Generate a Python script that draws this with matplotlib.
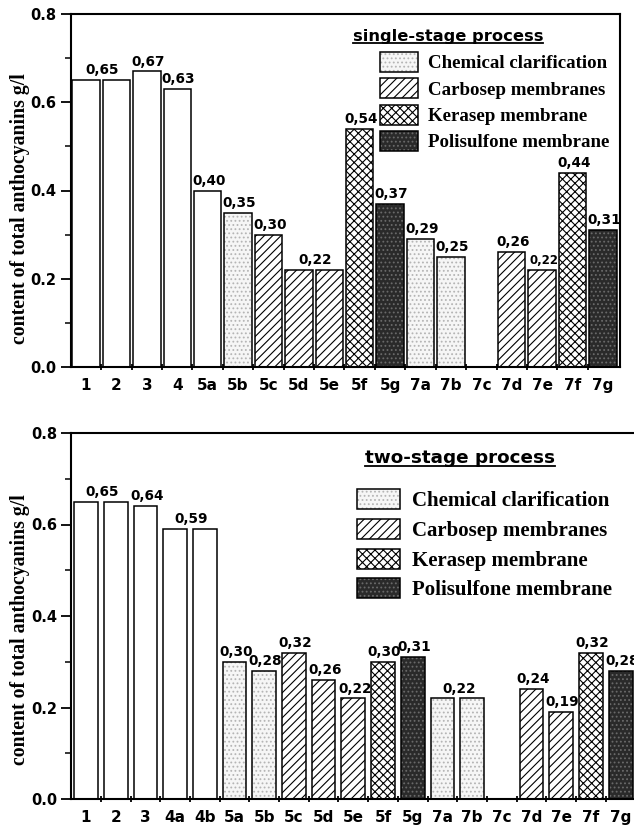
import matplotlib
matplotlib.use("Agg")
import matplotlib.pyplot as plt
from matplotlib.patches import Patch
from matplotlib.lines import Line2D
from matplotlib.ticker import MultipleLocator, FixedLocator
from matplotlib.legend_handler import HandlerTuple
import numpy as np

# ---------------- data ----------------
cats_top = ['1', '2', '3', '4', '5a', '5b', '5c', '5d', '5e', '5f', '5g',
            '7a', '7b', '7c', '7d', '7e', '7f', '7g']
vals_top = [0.65, 0.65, 0.67, 0.63, 0.40, 0.35, 0.30, 0.22, 0.22, 0.54, 0.37,
            0.29, 0.25, 0.0, 0.26, 0.22, 0.44, 0.31]
kind_top = ['none', 'none', 'none', 'none', 'none', 'chem', 'carb', 'carb', 'carb',
            'kera', 'poli', 'chem', 'chem', 'none', 'carb', 'carb', 'kera', 'poli']
labels_top = ['0,65', '', '0,67', '0,63', '0,40', '0,35', '0,30', '0,22', '',
              '0,54', '0,37', '0,29', '0,25', '', '0,26', '0,22', '0,44', '0,31']
shared_top = [0, 7]          # label spans bar i and i+1
small_top = [15]             # smaller label

cats_bot = ['1', '2', '3', '4a', '4b', '5a', '5b', '5c', '5d', '5e', '5f', '5g',
            '7a', '7b', '7c', '7d', '7e', '7f', '7g']
vals_bot = [0.65, 0.65, 0.64, 0.59, 0.59, 0.30, 0.28, 0.32, 0.26, 0.22, 0.30, 0.31,
            0.22, 0.22, 0.0, 0.24, 0.19, 0.32, 0.28]
kind_bot = ['none', 'none', 'none', 'none', 'none', 'chem', 'chem', 'carb', 'carb',
            'carb', 'kera', 'poli', 'chem', 'chem', 'none', 'carb', 'carb', 'kera', 'poli']
labels_bot = ['0,65', '', '0,64', '0,59', '', '0,30', '0,28', '0,32', '0,26', '0,22',
              '0,30', '0,31', '0,22', '', '', '0,24', '0,19', '0,32', '0,28']
shared_bot = [0, 3, 12]
small_bot = []

legend_labels = ['Chemical clarification', 'Carbosep membranes',
                 'Kerasep membrane', 'Polisulfone membrane']
legend_kinds = ['chem', 'carb', 'kera', 'poli']
ylabel = 'content of total anthocyanins g/l'

# ---------------- styles ----------------
styles = {
    'none': dict(face='white', hatch=None, hcol='white'),
    'chem': dict(face='#f6f6f6', hatch='....', hcol='#b5b5b5'),
    'carb': dict(face='white', hatch='////', hcol='black'),
    'kera': dict(face='white', hatch='xxxx', hcol='black'),
    'poli': dict(face='#2a2a2a', hatch='....', hcol='#6a6a6a'),
}
plt.rcParams['hatch.linewidth'] = 0.8
SANS = 'DejaVu Sans'
SERIF = 'Liberation Serif'

fig = plt.figure(figsize=(6.34, 8.31), dpi=100)
W, H = 634.0, 831.0


def px_box(l, t, r, b):
    return [l / W, 1 - b / H, (r - l) / W, (b - t) / H]


def draw_panel(ax, cats, vals, kinds, labels, shared, small, width, xlim,
               right_spine=True):
    x = np.arange(len(cats))
    vals = np.asarray(vals)
    kinds = np.asarray(kinds)
    for k, st in styles.items():
        m = kinds == k
        if not m.any():
            continue
        ax.bar(x[m], vals[m], width, color=st['face'], edgecolor=st['hcol'],
               hatch=st['hatch'], linewidth=0, zorder=2)
    ax.bar(x, vals, width, fill=False, edgecolor='black', linewidth=1.1, zorder=3)
    for i, lab in enumerate(labels):
        if not lab:
            continue
        if i in shared:
            xi = (x[i] + x[i + 1]) / 2
            yi = max(vals[i], vals[i + 1])
        else:
            xi = x[i]
            yi = vals[i]
        ax.annotate(lab, (xi, yi), xytext=(1, 2), textcoords='offset points',
                    ha='center', va='bottom', fontfamily=SANS, fontweight='bold',
                    fontsize=8.5 if i in small else 9.8, annotation_clip=False,
                    clip_on=False)
    ax.set_xlim(*xlim)
    ax.set_ylim(0, 0.8)
    ax.xaxis.set_major_locator(FixedLocator(x))
    ax.set_xticklabels(cats, fontfamily=SANS, fontweight='bold', fontsize=11)
    ax.xaxis.set_minor_locator(FixedLocator(x[:-1] + 0.5))
    ax.tick_params(axis='x', which='major', length=0, pad=8)
    ax.tick_params(axis='x', which='minor', length=5, width=1.3, direction='inout')
    ax.yaxis.set_major_locator(MultipleLocator(0.2))
    ax.yaxis.set_minor_locator(MultipleLocator(0.1))
    ax.tick_params(axis='y', which='major', length=7, width=1.3, pad=3)
    ax.tick_params(axis='y', which='minor', length=4, width=1.1)
    ax.set_yticks([0.0, 0.2, 0.4, 0.6, 0.8])
    ax.set_yticklabels(['0.0', '0.2', '0.4', '0.6', '0.8'], fontfamily=SANS,
                       fontweight='bold', fontsize=10.5)
    for s in ax.spines.values():
        s.set_linewidth(1.5)
    if not right_spine:
        ax.spines['right'].set_visible(False)


def make_legend(ax, anchor, fontsize, hl, hh, ls, htp):
    handles = []
    for k in legend_kinds:
        st = styles[k]
        handles.append((Patch(facecolor=st['face'], edgecolor=st['hcol'],
                              hatch=st['hatch'], linewidth=0),
                        Patch(fill=False, edgecolor='black', linewidth=1.1)))
    leg = ax.legend(handles, legend_labels, loc='upper left',
                    bbox_to_anchor=anchor, bbox_transform=fig.transFigure,
                    frameon=False, borderpad=0, borderaxespad=0,
                    handlelength=hl, handleheight=hh,
                    labelspacing=ls, handletextpad=htp,
                    handler_map={tuple: HandlerTuple(ndivide=1)},
                    prop=dict(family=SERIF, weight='bold', size=fontsize))
    return leg


# top panel
ax1 = fig.add_axes(px_box(70.5, 14, 620, 367))
draw_panel(ax1, cats_top, vals_top, kind_top, labels_top, shared_top, small_top,
           0.9, (-0.51, 17.56))
make_legend(ax1, (380 / W, 1 - 52 / H), 13.6, 2.0, 1.25, 0.32, 0.55)

# bottom panel
ax2 = fig.add_axes(px_box(71, 433, 634, 799))
draw_panel(ax2, cats_bot, vals_bot, kind_bot, labels_bot, shared_bot, small_bot,
           0.8, (-0.505, 18.45), right_spine=False)
make_legend(ax2, (357 / W, 1 - 489 / H), 15, 2.05, 1.1, 0.37, 0.6)

# y labels
fig.text(20 / W, 1 - 209 / H, ylabel, rotation=90, ha='center', va='center',
         fontfamily=SERIF, fontweight='bold', fontsize=14.2)
fig.text(20 / W, 1 - 630 / H, ylabel, rotation=90, ha='center', va='center',
         fontfamily=SERIF, fontweight='bold', fontsize=14.2)

# underlined titles
t1 = fig.text(448 / W, 1 - 36 / H, 'single-stage process', ha='center', va='center',
              fontfamily=SANS, fontweight='bold', fontsize=11.7)
t2 = fig.text(460 / W, 1 - 458 / H, 'two-stage process', ha='center', va='center',
              fontfamily=SANS, fontweight='bold', fontsize=13.2)
fig.canvas.draw()
r = fig.canvas.get_renderer()
for t in (t1, t2):
    bb = t.get_window_extent(r)
    yl = bb.y0 + 1.0
    fig.add_artist(Line2D([bb.x0 / W, bb.x1 / W], [yl / H, yl / H],
                          transform=fig.transFigure, color='black', linewidth=1.3))

fig.savefig('out.png', dpi=100)
